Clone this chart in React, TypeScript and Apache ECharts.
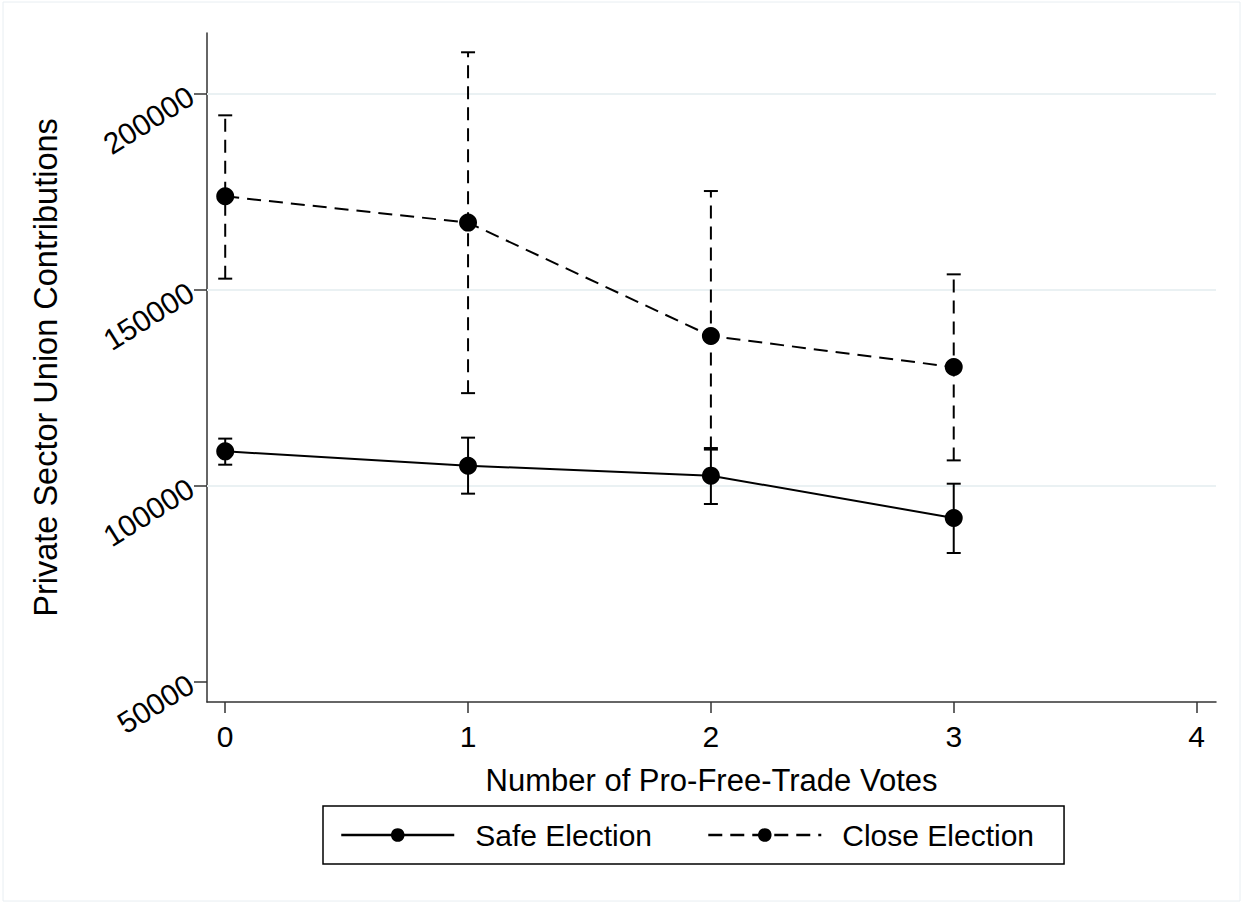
import React, { useEffect, useRef } from "react";
import * as echarts from "echarts";

// ---- Data ----
const votes = [0, 1, 2, 3];
const xTicks = [0, 1, 2, 3, 4];
const yTicks = [50000, 100000, 150000, 200000];
const gridValues = [100000, 150000, 200000];

const safeMean = [108750, 105100, 102550, 91760];
const safeLow = [105350, 97960, 95330, 82830];
const safeHigh = [112000, 112250, 109600, 100500];

const closeMean = [173800, 167100, 138170, 130250];
const closeLow = [152800, 123600, 109200, 106450];
const closeHigh = [194460, 210540, 175150, 153900];

const FONT = "'Liberation Sans', Arial, Helvetica, sans-serif";
const DASH = [14, 8];

function errorBarRenderer(dashed: boolean) {
  return (params: any, api: any) => {
    const x = api.value(0);
    const lo = api.value(1);
    const hi = api.value(2);
    const pLo = api.coord([x, lo]);
    const pHi = api.coord([x, hi]);
    const hw = 7;
    const stroke = "#000";
    return {
      type: "group",
      children: [
        {
          type: "line",
          shape: { x1: pLo[0], y1: pLo[1], x2: pHi[0], y2: pHi[1] },
          style: { stroke, lineWidth: 2, lineDash: dashed ? [13, 8] : null },
        },
        {
          type: "line",
          shape: { x1: pLo[0] - hw, y1: pLo[1], x2: pLo[0] + hw, y2: pLo[1] },
          style: { stroke, lineWidth: 2 },
        },
        {
          type: "line",
          shape: { x1: pHi[0] - hw, y1: pHi[1], x2: pHi[0] + hw, y2: pHi[1] },
          style: { stroke, lineWidth: 2 },
        },
      ],
    };
  };
}

export default function App() {
  const ref = useRef<HTMLDivElement>(null);

  useEffect(() => {
    if (!ref.current) return;
    const chart = echarts.init(ref.current, undefined, { renderer: "svg" });

    const option: any = {
      animation: false,
      backgroundColor: "#ffffff",
      textStyle: { fontFamily: FONT },
      graphic: [
        {
          type: "rect",
          shape: { x: 3, y: 2, width: 1237, height: 899 },
          style: { fill: "none", stroke: "#e8eef2", lineWidth: 1 },
          silent: true,
          z: -1,
        },
      ],
      grid: { left: 207, right: 31, top: 33, bottom: 203, containLabel: false },
      xAxis: {
        type: "value",
        min: -0.075,
        max: 4.08,
        name: "Number of Pro-Free-Trade Votes",
        nameLocation: "middle",
        nameGap: 63,
        nameMoveOverlap: false,
        nameTextStyle: { fontSize: 31, color: "#000", fontFamily: FONT },
        axisLine: { show: true, onZero: false, lineStyle: { color: "#333", width: 1.5 } },
        axisTick: {
          show: true,
          length: 11,
          customValues: xTicks,
          lineStyle: { color: "#333", width: 1.5 },
        },
        axisLabel: {
          customValues: xTicks,
          fontSize: 30,
          color: "#000",
          margin: 19,
          fontFamily: FONT,
          formatter: (v: number) => String(v),
        },
        splitLine: { show: false },
      },
      yAxis: {
        type: "value",
        min: 44821,
        max: 215459,
        name: "Private Sector Union Contributions",
        nameLocation: "middle",
        nameGap: 145,
        nameMoveOverlap: false,
        nameRotate: 90,
        nameTextStyle: { fontSize: 32.5, color: "#000", fontFamily: FONT },
        axisLine: { show: true, onZero: false, lineStyle: { color: "#333", width: 1.5 } },
        axisTick: {
          show: true,
          length: 13,
          customValues: yTicks,
          lineStyle: { color: "#333", width: 1.5 },
        },
        axisLabel: {
          customValues: yTicks,
          rotate: 32,
          fontSize: 30,
          color: "#000",
          margin: 16,
          fontFamily: FONT,
          formatter: (v: number) => String(v),
        },
        splitLine: { show: false },
      },
      legend: {
        left: 323,
        top: 806,
        orient: "horizontal",
        itemWidth: 113,
        itemHeight: 17,
        itemGap: 55,
        padding: [14, 30, 14, 17],
        borderColor: "#000",
        borderWidth: 1.5,
        backgroundColor: "#fff",
        lineStyle: { width: 2.5 },
        textStyle: { fontSize: 30, color: "#000", fontFamily: FONT, padding: [0, 0, 0, 16] },
        data: ["Safe Election", "Close Election"],
      },
      series: [
        {
          name: "Safe Election bars",
          type: "custom",
          renderItem: errorBarRenderer(false),
          data: votes.map((x, i) => [x, safeLow[i], safeHigh[i]]),
          encode: { x: 0, y: [1, 2] },
          z: 3,
          silent: true,
        },
        {
          name: "Close Election bars",
          type: "custom",
          renderItem: errorBarRenderer(true),
          data: votes.map((x, i) => [x, closeLow[i], closeHigh[i]]),
          encode: { x: 0, y: [1, 2] },
          z: 3,
          silent: true,
        },
        {
          name: "Safe Election",
          type: "line",
          data: votes.map((x, i) => [x, safeMean[i]]),
          symbol: "circle",
          symbolSize: 18,
          lineStyle: { color: "#000", width: 2, type: "solid" },
          itemStyle: { color: "#000" },
          z: 4,
          markLine: {
            silent: true,
            symbol: ["none", "none"],
            label: { show: false },
            lineStyle: { color: "#eaf1f3", width: 2, type: "solid" },
            z: 1,
            data: gridValues.map((v) => ({ yAxis: v })),
          },
        },
        {
          name: "Close Election",
          type: "line",
          data: votes.map((x, i) => [x, closeMean[i]]),
          symbol: "circle",
          symbolSize: 18,
          lineStyle: { color: "#000", width: 2, type: DASH },
          itemStyle: { color: "#000" },
          z: 4,
        },
      ],
    };

    chart.setOption(option);
    return () => chart.dispose();
  }, []);

  return (
    <div
      ref={ref}
      style={{ position: "fixed", left: 0, top: 0, width: 1247, height: 905, background: "#fff" }}
    />
  );
}
